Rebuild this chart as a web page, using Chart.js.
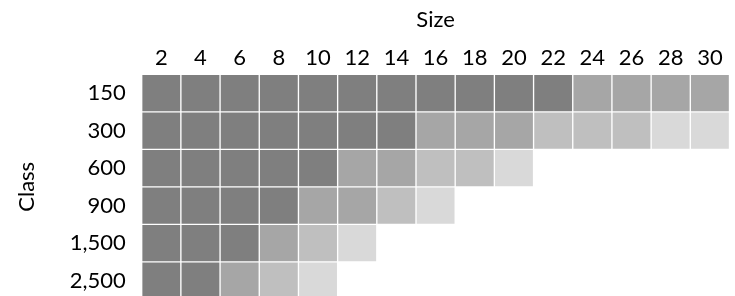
<!DOCTYPE html>
<html>
<head>
<meta charset="utf-8">
<script src="https://cdn.jsdelivr.net/npm/chart.js@4"></script>
<style>
  html, body { margin: 0; padding: 0; background: #fff; overflow: hidden; }
  canvas { display: block; }
</style>
</head>
<body>
<canvas id="c" width="735" height="300" style="width:735px;height:300px"></canvas>
<script>
// Column categories (Size) and row categories (Class)
const sizes = ['2','4','6','8','10','12','14','16','18','20','22','24','26','28','30'];
const classes = ['150','300','600','900','1,500','2,500'];

// Shade level per cell (4 = darkest, 1 = lightest, 0 = empty), one array per class
const class150  = [4,4,4,4,4,4,4,4,4,4,4,3,3,3,3];
const class300  = [4,4,4,4,4,4,4,3,3,3,2,2,2,1,1];
const class600  = [4,4,4,4,4,3,3,2,2,1,0,0,0,0,0];
const class900  = [4,4,4,4,3,3,2,1,0,0,0,0,0,0,0];
const class1500 = [4,4,4,3,2,1,0,0,0,0,0,0,0,0,0];
const class2500 = [4,4,3,2,1,0,0,0,0,0,0,0,0,0,0];
const levelRows = [class150, class300, class600, class900, class1500, class2500];

const shade = {1: '#d9d9d9', 2: '#bfbfbf', 3: '#a6a6a6', 4: '#7f7f7f'};
const FONT = 'Lato, "DejaVu Sans", sans-serif';

const datasets = levelRows.map((row, r) => ({
  label: classes[r],
  data: row.map(l => l > 0 ? [r, r + 1] : null),
  backgroundColor: row.map(l => shade[l] || 'rgba(0,0,0,0)'),
  borderColor: '#ffffff',
  borderWidth: 1,
  borderSkipped: false,
  barPercentage: 1,
  categoryPercentage: 1,
  grouped: false
}));

new Chart(document.getElementById('c'), {
  type: 'bar',
  data: { labels: sizes, datasets },
  options: {
    responsive: false,
    devicePixelRatio: 1,
    animation: false,
    layout: { padding: { left: 0, right: 5.5, top: 0, bottom: 0.7 } },
    plugins: { legend: { display: false }, tooltip: { enabled: false } },
    scales: {
      x: {
        position: 'top',
        grid: { display: false, drawTicks: false },
        border: { display: false },
        ticks: { color: '#000', font: { family: FONT, size: 22 }, padding: 3, maxRotation: 0, autoSkip: false },
        title: { display: true, text: 'Size', color: '#000', font: { family: FONT, size: 22 }, padding: { top: 7, bottom: 0 } },
        afterFit: s => { s.height = 74.3; s.paddingLeft = 0; s.paddingRight = 0; }
      },
      y: {
        min: 0, max: 6, reverse: true,
        grid: { display: false, drawTicks: false },
        border: { display: false },
        afterBuildTicks: s => { s.ticks = classes.map((c, i) => ({ value: i + 0.5 })); },
        ticks: { color: '#000', font: { family: FONT, size: 22 }, padding: 16, autoSkip: false,
                 callback: (v, i) => classes[i] },
        title: { display: true, text: 'Class', color: '#000', font: { family: FONT, size: 22 }, padding: { top: 14, bottom: 0 } },
        afterFit: s => { s.width = 141.7; s.paddingTop = 0; s.paddingBottom = 0; }
      }
    }
  }
});
</script>
</body>
</html>
